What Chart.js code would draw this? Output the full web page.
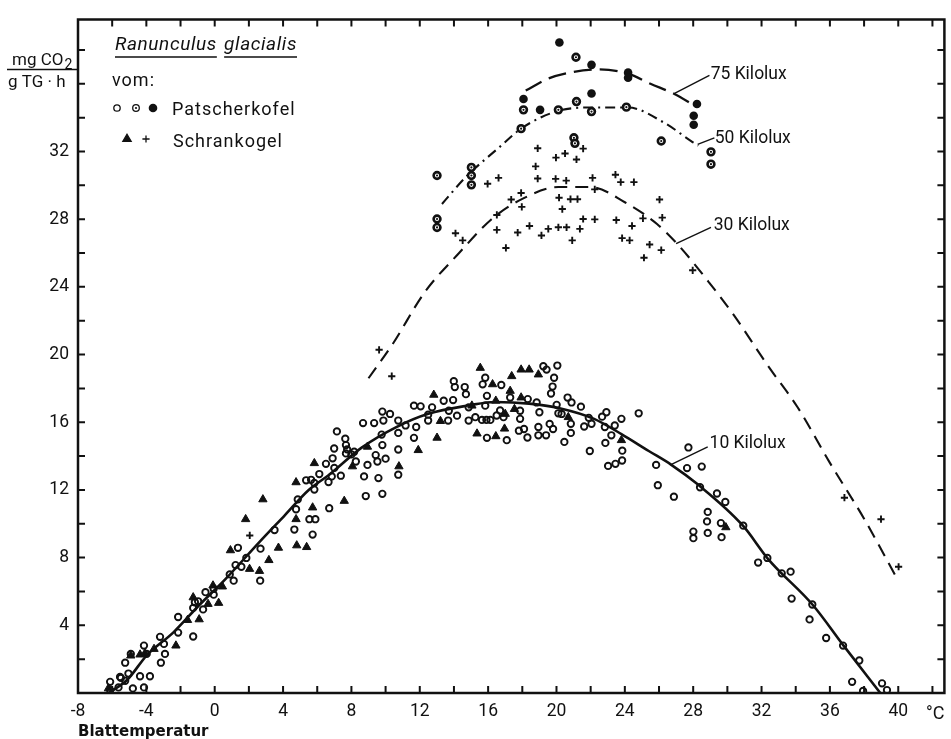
<!DOCTYPE html>
<html>
<head>
<meta charset="utf-8">
<script src="https://cdn.jsdelivr.net/npm/chart.js@4.4.1/dist/chart.umd.min.js"></script>
<style>
  html, body { margin: 0; padding: 0; background: #fff; }
  #wrap { width: 951px; height: 739px; }
</style>
</head>
<body>
<div id="wrap"><canvas id="chart" width="951" height="739"></canvas></div>
<script>
// ---------------------------
// Data (x = Blattemperatur °C, y = mg CO2 / g TG·h)
// ---------------------------

const xLabelValues = [-8, -4, 0, 4, 8, 12, 16, 20, 24, 28, 32, 36, 40];
const yLabelValues = [4, 8, 12, 16, 20, 24, 28, 32];

// fitted curves
const curve10 = [[-6.2,0],[-5.1,0.8],[-4.0,2.2],[-2.4,3.6],[-0.9,5.2],[0.6,6.7],[2.6,8.9],[4.1,10.5],[5.5,12.0],[6.7,12.9],[8.6,14.5],[10.6,15.7],[12.5,16.5],[14.9,17.0],[16.4,17.2],[18.4,17.1],[20.3,16.8],[22.2,16.2],[23.8,15.3],[25.4,14.3],[26.7,13.5],[28.3,12.3],[30.9,9.9],[32.4,7.9],[35.0,5.2],[36.8,2.8],[38.95,0]];
const curve30 = [[9.0,18.6],[10.4,20.6],[12.3,23.7],[14.3,26.0],[16.2,28.0],[18.0,29.2],[20.1,29.9],[22.0,29.9],[24.0,29.0],[25.9,27.7],[27.1,26.5],[28.9,24.3],[30.4,22.3],[32.4,19.3],[34.1,16.9],[36.0,13.6],[38.0,10.3],[39.8,7.0]];
const curve50 = [[13.3,28.9],[14.7,30.5],[16.6,32.2],[18.0,33.4],[20.1,34.4],[22.0,34.6],[24.2,34.6],[26.3,33.7],[27.9,32.6],[28.3,32.35]];
const curve75 = [[18.2,35.6],[19.5,36.3],[21.0,36.7],[22.5,36.85],[24.2,36.6],[25.5,36.0],[26.9,35.4],[28.1,34.7]];

// Patscherkofel, 10 Kilolux (open circles)
const patscher10 = [
  [-6.12,0.66],[-6.12,0.17],[-5.63,0.33],[-5.49,0.89],[-5.24,0.72],[-5.05,1.15],[-4.79,0.27],[-4.37,0.99],[-3.79,0.99],[-4.14,0.33],
  [-5.24,1.79],[-4.91,2.31],[-4.14,2.80],[-3.98,2.31],[-3.15,1.79],[-3.20,3.32],[-2.97,2.90],[-2.91,2.31],[-2.14,3.57],[-2.14,4.49],
  [-1.26,3.34],[-1.26,5.03],[-1.16,5.36],[-0.68,4.94],[-5.54,0.95],[-0.97,5.42],[-0.54,5.96],[-0.06,5.81],[-0.06,6.16],[0.88,7.01],
  [1.11,6.64],[1.22,7.56],[1.56,7.46],[1.85,7.98],[1.36,8.58],[2.68,8.53],[2.66,6.64],[3.50,9.63],[4.66,9.66],[4.76,10.86],
  [4.86,11.44],[5.73,9.36],[5.54,10.27],[5.89,10.27],[5.35,12.57],[5.64,12.60],[5.83,12.41],[5.83,12.02],[6.12,12.94],[6.51,13.54],
  [6.66,12.47],[6.90,13.87],[6.99,14.45],[7.15,15.46],[6.70,10.92],[7.38,12.84],[7.64,15.03],[7.68,14.65],[7.68,14.16],[8.16,14.26],
  [8.26,13.68],[8.68,15.95],[8.74,12.80],[8.84,11.64],[8.94,13.48],[9.33,15.95],[9.42,14.06],[9.52,13.68],[9.58,12.70],[7.75,14.4],
  [8.0,14.1],[7.0,13.3],[6.85,12.8],[9.81,11.77],[10.0,13.85],[9.81,14.65],[9.77,15.27],[9.81,16.63],[10.26,16.49],[9.87,16.10],
  [10.74,16.10],[10.74,15.37],[10.74,14.39],[10.74,12.90],[11.17,15.81],[11.66,16.98],[12.05,16.94],[11.79,15.72],[11.66,15.08],[12.49,16.45],
  [12.49,16.10],[12.72,16.88],[13.40,17.27],[13.95,17.31],[13.70,16.68],[14.18,16.39],[13.66,16.10],[13.99,18.43],[14.05,18.08],[14.63,18.08],
  [14.70,17.66],[14.86,16.88],[14.86,16.10],[15.25,16.30],[15.68,18.24],[15.83,18.63],[15.93,17.56],[15.83,16.98],[15.64,16.14],[15.9,16.14],
  [16.13,16.14],[15.93,15.08],[16.77,18.20],[16.5,16.4],[16.7,16.7],[16.9,16.3],[17.09,14.94],[17.29,17.46],[17.87,16.68],[17.87,16.20],
  [17.8,15.5],[18.1,15.6],[18.3,15.1],[18.32,17.37],[18.84,17.17],[19.0,16.59],[18.94,15.72],[18.94,15.23],[19.39,15.23],[19.23,19.31],
  [19.42,19.11],[20.05,19.35],[19.86,18.63],[19.77,18.11],[19.68,17.70],[19.6,15.9],[19.8,15.6],[20.01,17.03],[20.11,16.53],[20.30,16.49],
  [20.46,14.84],[20.65,17.46],[20.88,17.17],[20.84,15.91],[20.84,15.37],[21.43,16.92],[21.62,15.75],[22.05,15.91],[21.95,14.30],[21.89,16.26],
  [22.67,16.33],[22.92,16.59],[22.86,14.78],[23.41,15.81],[23.21,15.23],[23.80,16.20],[23.85,14.32],[23.02,13.42],[23.45,13.54],[23.84,13.74],
  [24.81,16.53],[22.83,15.72],[27.72,14.51],[25.83,13.48],[27.64,13.29],[28.50,13.38],[25.93,12.28],[26.87,11.60],[28.40,12.16],[29.39,11.79],
  [29.88,11.29],[28.85,10.70],[28.81,10.14],[28.85,9.46],[28.01,9.54],[28.01,9.15],[29.62,10.04],[29.66,9.21],[30.93,9.89],[32.34,7.98],
  [31.80,7.71],[33.18,7.07],[33.70,7.17],[33.76,5.58],[34.97,5.23],[34.81,4.35],[35.78,3.25],[36.77,2.80],[37.72,1.92],[37.30,0.66],
  [39.05,0.57],[39.34,0.17],[37.94,0.12]
];

// Schrankogel, 10 Kilolux (filled triangles)
const schrank10 = [
  [-6.22,0.27],[-4.91,2.21],[-4.37,2.27],[-4.08,2.35],[-3.55,2.60],[-2.27,2.80],[-1.59,4.31],[-0.91,4.35],[-0.39,5.26],[0.23,5.32],
  [-1.26,5.65],[0.45,6.29],[-0.10,6.35],[0.92,8.43],[1.81,10.27],[2.04,7.33],[2.62,7.21],[3.17,7.85],[2.82,11.44],[3.73,8.58],
  [4.76,12.45],[4.76,10.27],[4.80,8.72],[5.38,8.62],[5.73,10.96],[5.83,13.58],[7.58,11.35],[8.06,13.39],[8.94,14.55],[10.78,13.39],
  [11.91,14.35],[13.01,15.08],[13.21,16.07],[12.82,17.62],[15.54,19.21],[16.26,18.24],[17.29,17.85],[17.38,18.72],[17.93,19.11],[18.40,19.11],
  [18.94,18.82],[16.45,17.27],[15.35,15.33],[16.45,15.17],[16.96,15.62],[17.0,16.49],[17.54,16.78],[17.93,17.46],[15.05,16.98],[20.69,16.30],
  [23.80,14.94],[29.91,9.79]
];

// Schrankogel, 30 Kilolux (plus signs)
const schrank30 = [
  [18.90,32.19],[19.97,31.64],[20.50,31.88],[21.17,31.53],[21.56,32.17],[18.78,31.12],[16.61,30.44],[15.97,30.09],[18.90,30.40],[19.95,30.38],
  [20.57,30.28],[22.11,30.44],[22.24,29.76],[17.93,29.55],[17.35,29.16],[17.97,28.73],[20.15,29.27],[20.82,29.18],[21.23,29.18],[20.34,28.60],
  [16.51,28.25],[21.56,28.01],[22.24,27.99],[14.09,27.17],[14.51,26.75],[16.51,27.37],[17.73,27.21],[18.42,27.60],[19.12,27.04],[19.52,27.43],
  [20.11,27.52],[20.59,27.52],[21.37,27.43],[20.92,26.75],[17.04,26.30],[9.62,20.28],[10.36,18.72],[23.45,30.63],[23.76,30.19],[24.53,30.19],
  [26.03,29.16],[23.50,27.95],[24.42,27.60],[25.06,28.05],[26.19,28.09],[23.84,26.88],[24.28,26.75],[25.45,26.50],[26.13,26.17],[25.12,25.72],
  [27.97,24.98],[36.85,11.54],[38.99,10.27],[40.02,7.46],[2.05,9.31]
];

// Patscherkofel, 50 Kilolux (ring with dot)
const patscher50 = [
  [18.07,34.46],[20.11,34.46],[21.17,34.95],[22.05,34.36],[24.09,34.62],[17.93,33.35],[26.13,32.62],[21.02,32.81],[21.08,32.48],[15.02,31.06],
  [15.02,30.58],[15.02,30.03],[13.01,30.58],[13.01,28.01],[13.01,27.51],[29.04,31.98],[29.04,31.25],[21.14,37.57]
];

// Patscherkofel, 75 Kilolux (filled circles)
const patscher75 = [
  [20.17,38.44],[22.05,37.12],[24.19,36.66],[24.19,36.36],[18.07,35.10],[22.05,35.43],[28.22,34.81],[28.03,34.11],[28.03,33.58],[19.04,34.46]
];

// curve labels with leader lines (in data units)
const curveLabels = [
  { text: '75 Kilolux', at: [29.02, 36.31], from: [26.91, 35.43], to: [28.95, 36.50] },
  { text: '50 Kilolux', at: [29.26, 32.52], from: [28.26, 32.42], to: [29.24, 32.81] },
  { text: '30 Kilolux', at: [29.20, 27.39], from: [27.00, 26.56], to: [29.04, 27.52] },
  { text: '10 Kilolux', at: [28.96, 14.45], from: [26.67, 13.48], to: [28.85, 14.55] },
];

// ---------------------------
// Styling helpers
// ---------------------------
const FONT = 'Roboto, "DejaVu Sans", sans-serif';
const INK = '#111';

const toXY = arr => arr.map(p => ({ x: p[0], y: p[1] }));

function curveDataset(points, dash, width) {
  return {
    type: 'scatter',
    data: toXY(points),
    showLine: true,
    borderColor: INK,
    borderWidth: width,
    borderDash: dash,
    pointRadius: 0,
    fill: false,
    cubicInterpolationMode: 'monotone',
  };
}

// ticks, frame
const framePlugin = {
  id: 'frame',
  afterDatasetsDraw(chart) {
    const { ctx, chartArea: a, scales: { x, y } } = chart;
    ctx.save();
    ctx.strokeStyle = INK;
    ctx.lineWidth = 2;
    ctx.beginPath();
    x.ticks.forEach(t => {
      if (t.value % 2 !== 0) return;
      const px = x.getPixelForValue(t.value);
      if (px <= a.left + 3 || px >= a.right - 3) return;
      ctx.moveTo(px, a.bottom); ctx.lineTo(px, a.bottom - 7);
      ctx.moveTo(px, a.top); ctx.lineTo(px, a.top + 7);
    });
    y.ticks.forEach(t => {
      if (t.value % 2 !== 0) return;
      const py = y.getPixelForValue(t.value);
      if (py >= a.bottom - 3 || py <= a.top + 3) return;
      ctx.moveTo(a.left, py); ctx.lineTo(a.left + 7, py);
      ctx.moveTo(a.right, py); ctx.lineTo(a.right - 7, py);
    });
    ctx.stroke();
    ctx.lineWidth = 2.5;
    ctx.strokeRect(a.left, a.top, a.right - a.left, a.bottom - a.top);
    ctx.restore();
  }
};

// texts, legend, leaders
const textPlugin = {
  id: 'texts',
  afterDraw(chart) {
    const { ctx, scales: { x, y } } = chart;
    const drawPoint = Chart.helpers.drawPoint;
    ctx.save();
    ctx.fillStyle = INK;
    ctx.strokeStyle = INK;
    ctx.textBaseline = 'alphabetic';
    ctx.textAlign = 'left';

    // y unit as a fraction
    ctx.font = '17px ' + FONT;
    ctx.fillText('mg CO', 12, 65);
    const w = ctx.measureText('mg CO').width;
    ctx.font = '14px ' + FONT;
    ctx.fillText('2', 12 + w + 1, 69);
    ctx.lineWidth = 1.5;
    ctx.beginPath(); ctx.moveTo(7, 69.5); ctx.lineTo(77, 69.5); ctx.stroke();
    ctx.font = '17px ' + FONT;
    ctx.fillText('g TG \u00b7 h', 8, 87);

    // x title and unit
    ctx.font = 'bold 15px "DejaVu Sans", ' + FONT;
    ctx.fillText('Blattemperatur', 78, 736);
    ctx.font = '18px ' + FONT;
    ctx.fillText('\u00b0C', 926, 719);

    // legend block
    ctx.letterSpacing = '0.6px';
    ctx.font = 'italic 19px ' + FONT;
    ctx.fillText('Ranunculus', 115, 50);
    const w1 = ctx.measureText('Ranunculus').width;
    const sp = ctx.measureText(' ').width + 2;
    ctx.fillText('glacialis', 115 + w1 + sp, 50);
    const w2 = ctx.measureText('glacialis').width;
    ctx.lineWidth = 1.3;
    ctx.beginPath();
    ctx.moveTo(115, 57); ctx.lineTo(115 + w1, 57);
    ctx.moveTo(115 + w1 + sp, 57); ctx.lineTo(115 + w1 + sp + w2, 57);
    ctx.stroke();

    ctx.letterSpacing = '1px';
    ctx.font = '18px ' + FONT;
    ctx.fillText('vom:', 112, 86);
    ctx.fillText('Patscherkofel', 172, 115);
    ctx.fillText('Schrankogel', 173, 147);
    ctx.letterSpacing = '0px';

    ctx.fillStyle = '#fff';
    drawPoint(ctx, { pointStyle: 'circle', radius: 3.2, borderWidth: 1.9 }, 117, 108);
    drawPoint(ctx, { pointStyle: 'circle', radius: 3.3, borderWidth: 2.5 }, 136, 108);
    ctx.fillStyle = INK;
    drawPoint(ctx, { pointStyle: 'circle', radius: 1.1, borderWidth: 0 }, 136, 108);
    drawPoint(ctx, { pointStyle: 'circle', radius: 4.3, borderWidth: 0 }, 153, 108);
    drawPoint(ctx, { pointStyle: 'triangle', radius: 4.8, borderWidth: 1 }, 127, 139);
    drawPoint(ctx, { pointStyle: 'cross', radius: 3.6, borderWidth: 1.9 }, 146, 139);

    // curve labels with leader lines
    ctx.font = '17.5px ' + FONT;
    ctx.lineWidth = 1.4;
    curveLabels.forEach(l => {
      ctx.beginPath();
      ctx.moveTo(x.getPixelForValue(l.from[0]), y.getPixelForValue(l.from[1]));
      ctx.lineTo(x.getPixelForValue(l.to[0]), y.getPixelForValue(l.to[1]));
      ctx.stroke();
      ctx.fillText(l.text, x.getPixelForValue(l.at[0]), y.getPixelForValue(l.at[1]));
    });
    ctx.restore();
  }
};

// ---------------------------
// Chart
// ---------------------------
function initializeChart() {
  const el = document.getElementById('chart');
  const ctx = el.getContext('2d');

  new Chart(ctx, {
    type: 'scatter',
    data: {
      datasets: [
        { data: toXY(patscher10), pointStyle: 'circle', pointRadius: 3.2, borderWidth: 1.9, borderColor: INK, backgroundColor: 'rgba(255,255,255,0)' },
        { data: toXY(schrank10), pointStyle: 'triangle', pointRadius: 4.8, borderWidth: 1, borderColor: INK, backgroundColor: INK },
        { data: toXY(schrank30), pointStyle: 'cross', pointRadius: 3.6, borderWidth: 1.9, borderColor: INK, backgroundColor: INK },
        // 50 Kilolux: centre dot drawn above a thick ring
        { data: toXY(patscher50), pointStyle: 'circle', pointRadius: 1.1, borderWidth: 0, backgroundColor: INK },
        { data: toXY(patscher50), pointStyle: 'circle', pointRadius: 3.4, borderWidth: 2.6, borderColor: INK, backgroundColor: '#fff' },
        { data: toXY(patscher75), pointStyle: 'circle', pointRadius: 4.3, borderWidth: 0, borderColor: INK, backgroundColor: INK },
        curveDataset(curve10, [], 2.6),
        curveDataset(curve30, [13, 8], 2.1),
        curveDataset(curve50, [10, 5, 2, 5], 2.1),
        curveDataset(curve75, [18, 8], 2.3),
      ],
    },
    options: {
      responsive: false,
      animation: false,
      events: [],
      layout: { padding: { left: 0, top: 10, right: 3, bottom: 0 } },
      plugins: { legend: { display: false }, tooltip: { enabled: false } },
      scales: {
        x: {
          type: 'linear',
          min: -8,
          max: 42.7,
          grid: { display: false, drawTicks: false },
          border: { display: false },
          afterFit(scale) { scale.height = 46; },
          ticks: {
            stepSize: 2,
            includeBounds: false,
            autoSkip: false,
            maxRotation: 0,
            padding: 8,
            color: INK,
            font: { family: FONT, size: 17.5 },
            callback: v => (xLabelValues.includes(v) ? String(v) : ''),
          },
        },
        y: {
          type: 'linear',
          min: 0,
          max: 39.8,
          grid: { display: false, drawTicks: false },
          border: { display: false },
          afterFit(scale) { scale.width = 78; },
          ticks: {
            stepSize: 2,
            includeBounds: false,
            autoSkip: false,
            padding: 9,
            color: INK,
            font: { family: FONT, size: 17.5 },
            callback: v => (yLabelValues.includes(v) ? String(v) : ''),
          },
        },
      },
    },
    plugins: [framePlugin, textPlugin],
  });
}

document.addEventListener('DOMContentLoaded', initializeChart);
</script>
</body>
</html>
